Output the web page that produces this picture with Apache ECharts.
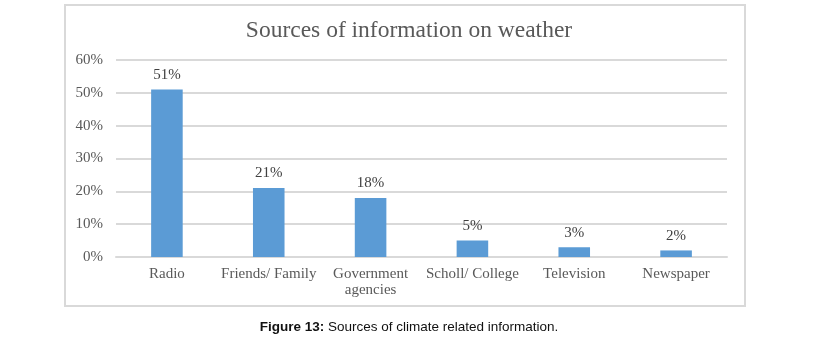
<!DOCTYPE html>
<html>
<head>
<meta charset="utf-8">
<script src="https://cdn.jsdelivr.net/npm/echarts@6/dist/echarts.min.js"></script>
<style>
  html, body { margin: 0; padding: 0; background: #fff; }
  #chart { width: 818px; height: 339px; }
</style>
</head>
<body>
<div id="chart"></div>
<script>
var categories = ['Radio', 'Friends/ Family', 'Government agencies', 'Scholl/ College', 'Television', 'Newspaper'];
var shares = [51, 21, 18, 5, 3, 2];
var yTicks = [0, 10, 20, 30, 40, 50, 60];

var myChart = echarts.init(document.getElementById('chart'));
var serif = '"Liberation Serif", "DejaVu Serif", serif';
var option = {
  animation: false,
  title: {
    text: 'Sources of information on weather',
    left: 'center',
    top: 14,
    textStyle: { color: '#595959', fontFamily: serif, fontSize: 23.5, fontWeight: 'normal' }
  },
  grid: { left: 116, right: 91, top: 60, bottom: 82 },
  xAxis: {
    type: 'category',
    data: categories,
    axisTick: { show: false },
    axisLine: { lineStyle: { color: '#d9d9d9', width: 2 } },
    axisLabel: {
      color: '#595959',
      fontFamily: serif,
      fontSize: 15,
      margin: 9,
      lineHeight: 16,
      interval: 0,
      formatter: function (v) { return v.replace('Government ', 'Government\n'); }
    }
  },
  yAxis: {
    type: 'value',
    min: yTicks[0],
    max: yTicks[yTicks.length - 1],
    interval: 10,
    axisLine: { show: false },
    axisTick: { show: false },
    splitLine: { lineStyle: { color: '#d9d9d9', width: 2 } },
    axisLabel: {
      color: '#595959',
      fontFamily: serif,
      fontSize: 15,
      margin: 13,
      formatter: '{value}%'
    }
  },
  series: [{
    type: 'bar',
    data: shares,
    barWidth: '31%',
    itemStyle: { color: '#5b9bd5' },
    label: {
      show: true,
      position: 'top',
      distance: 7,
      color: '#404040',
      fontFamily: serif,
      fontSize: 15,
      formatter: '{c}%'
    }
  }],
  graphic: [
    {
      type: 'rect',
      shape: { x: 65, y: 5, width: 680, height: 301 },
      style: { fill: 'none', stroke: '#d9d9d9', lineWidth: 2 },
      silent: true
    },
    {
      type: 'text',
      left: 'center',
      top: 320,
      style: {
        text: '{b|Figure 13:} Sources of climate related information.',
        fill: '#111',
        font: '13.5px "Liberation Sans", Arial, sans-serif',
        rich: {
          b: { fontWeight: 'bold', fontFamily: '"Liberation Sans", Arial, sans-serif', fontSize: 13.5, fill: '#111' }
        }
      }
    }
  ]
};
myChart.setOption(option, true);
</script>
</body>
</html>
